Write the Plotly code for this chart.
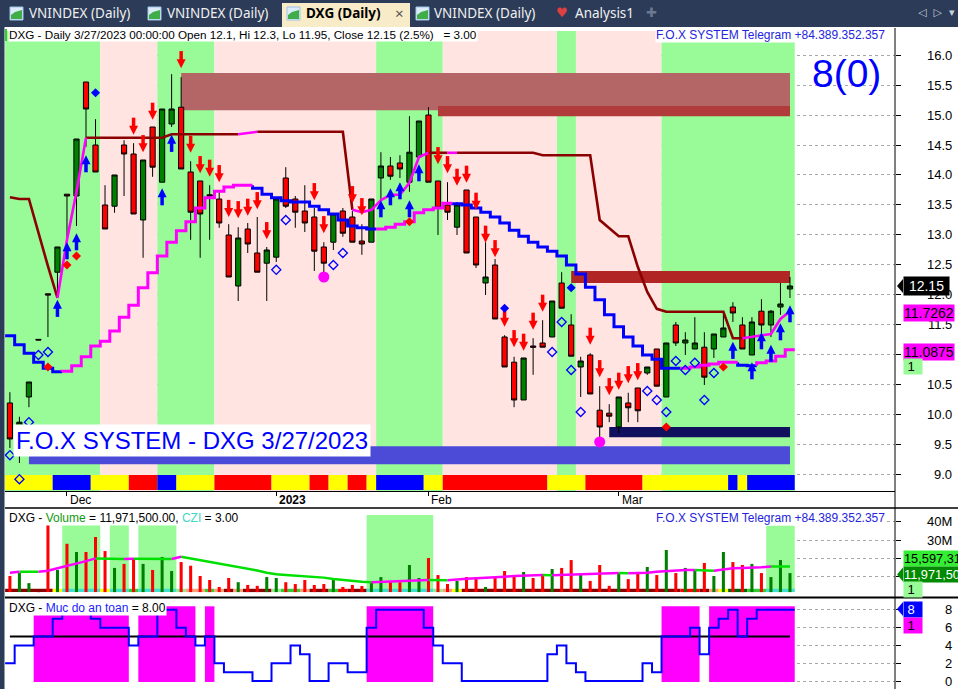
import plotly.graph_objects as go

W, H = 958, 689


def px(x):
    return x / W


def py(y):
    return 1 - y / H


# daily bars: index 0 = 23/11/2022 ... index 82 = 27/03/2023
opens = [10.2, 9.8, 10.3, 11.26, 12.02, 12.38, 13.68, 13.65, 15.55, 14.5,
         13.5, 13.48, 14.5, 14.35, 13.25, 14.8, 13.88, 14.85, 15.13, 14.05,
         13.9, 13.67, 13.6, 13.0, 12.15, 13.1, 12.7, 12.53, 12.63, 13.95,
         13.6, 13.4, 13.3, 12.8, 12.88, 13.4, 13.3, 12.9, 12.88, 13.95,
         14.15, 14.2, 13.88, 14.3, 15.0, 13.9, 13.5, 13.13, 13.75, 13.3,
         12.2, 12.5, 11.3, 10.88, 10.25, 11.15, 11.2, 11.3, 12.2, 11.5,
         10.8, 11.0, 10.08, 10.03, 9.8, 10.2, 10.45, 10.7, 11.1, 10.3,
         11.5, 11.2, 11.1, 11.13, 11.1, 11.3, 11.8, 11.5, 11.0, 11.73,
         11.5, 11.8, 12.1]
highs = [10.38, 9.97, 10.55, 11.26, 12.02, 12.8, 13.68, 14.6, 15.55, 14.93,
         13.83, 14.0, 14.58, 14.53, 14.25, 14.8, 15.1, 15.68, 15.63, 14.23,
         13.9, 13.83, 13.72, 13.18, 13.13, 13.2, 13.3, 12.8, 13.6, 14.13,
         13.65, 13.83, 13.45, 12.88, 13.35, 13.45, 13.4, 13.18, 13.6, 14.38,
         14.3, 14.33, 14.98, 14.9, 15.13, 13.9, 13.88, 13.55, 13.75, 13.3,
         12.88, 12.6, 11.33, 10.97, 10.95, 11.28, 11.58, 11.9, 12.38, 11.68,
         10.97, 11.03, 10.48, 10.18, 10.3, 10.37, 10.45, 10.8, 11.1, 11.2,
         11.55, 11.38, 11.63, 11.38, 11.35, 11.68, 11.88, 11.63, 11.63, 11.93,
         11.75, 12.2, 12.3]
lows = [9.45, 9.2, 10.13, 11.25, 11.3, 12.0, 12.95, 13.15, 14.47, 14.05,
        13.1, 13.37, 13.65, 13.35, 12.62, 13.97, 13.88, 14.8, 14.1, 12.92,
        12.62, 12.92, 13.12, 12.3, 11.9, 12.7, 12.38, 11.9, 12.55, 13.45,
        13.12, 13.05, 12.4, 12.33, 12.75, 12.97, 12.88, 12.67, 12.88, 13.6,
        13.92, 13.95, 13.72, 14.28, 13.88, 13.0, 13.25, 13.0, 12.7, 12.45,
        12.0, 11.6, 10.8, 10.13, 10.25, 10.67, 11.13, 11.3, 11.78, 10.98,
        10.3, 10.35, 9.63, 9.88, 9.7, 9.88, 9.88, 10.67, 10.48, 10.3,
        11.15, 11.0, 11.1, 10.5, 10.95, 11.3, 11.55, 11.1, 11.0, 11.17,
        11.3, 11.67, 11.95]
closes = [9.6, 9.88, 10.55, 11.25, 12.0, 12.8, 13.65, 14.6, 15.1, 14.05,
          13.1, 14.0, 14.35, 13.35, 14.25, 14.13, 15.1, 15.1, 14.1, 13.38,
          13.35, 13.65, 13.2, 12.3, 12.95, 12.85, 12.38, 12.75, 13.6, 13.48,
          13.38, 13.2, 12.73, 12.53, 13.35, 13.03, 12.88, 12.85, 13.6, 14.15,
          13.98, 14.1, 14.38, 14.9, 13.88, 13.45, 13.38, 13.5, 12.7, 12.5,
          12.3, 11.6, 10.8, 10.25, 10.95, 11.13, 11.13, 11.9, 11.78, 10.98,
          10.9, 10.35, 9.8, 9.98, 10.3, 10.12, 10.07, 10.8, 10.48, 11.2,
          11.2, 11.25, 11.2, 10.63, 11.35, 11.45, 11.7, 11.1, 11.55, 11.5,
          11.73, 11.85, 12.15]
# volume in millions of shares
volumes = [10.4, 12.0, 6.5, 1.5, 38.0, 13.7, 28.0, 23.5, 23.5, 31.7,
           24.0, 14.8, 17.0, 20.2, 17.0, 13.7, 20.8, 13.1, 18.0, 16.0,
           10.4, 8.2, 4.4, 9.3, 7.0, 5.5, 5.0, 9.8, 9.3, 7.0,
           6.0, 8.2, 5.5, 6.0, 8.7, 4.4, 5.5, 4.9, 7.0, 9.8,
           7.0, 7.0, 16.4, 9.3, 20.2, 10.9, 6.0, 7.7, 9.8, 9.8,
           4.4, 10.4, 13.1, 10.4, 12.6, 9.3, 11.5, 14.2, 14.8, 19.1,
           11.5, 7.7, 16.4, 5.0, 12.0, 8.7, 11.5, 15.3, 10.9, 24.6,
           12.0, 14.8, 13.7, 17.5, 10.4, 23.5, 18.0, 16.4, 17.0, 12.0,
           9.8, 19.1, 11.97]
vol_ma = [12.2, 12.75, 12.75, 12.7, 13.3, 14.6, 15.8, 17.0, 18.5, 20.0,
          19.95, 19.9, 19.7, 19.8, 19.75, 19.7, 19.7, 19.65, 20.9, 20.0,
          19.1, 18.2, 17.3, 16.4, 15.5, 14.6, 13.4, 12.2, 11.3, 10.9,
          10.6, 10.2, 9.8, 9.5, 8.8, 8.2, 7.7, 7.3, 7.0, 7.2,
          7.4, 7.6, 7.9, 8.0, 8.2, 8.15, 8.1, 8.6, 8.9, 9.1,
          9.3, 9.6, 10.0, 10.4, 10.6, 10.7, 10.9, 10.85, 11.0, 11.2,
          11.4, 11.5, 11.7, 11.9, 12.0, 11.95, 12.05, 12.2, 12.75, 13.1,
          13.5, 13.6, 13.7, 13.3, 13.2, 14.0, 14.6, 14.75, 14.8, 15.2,
          15.62, 15.6, 15.6]
# trailing stop line (dark red = resistance, magenta = support)
stop_line = [13.63, 13.6, 13.6, 13.03, 12.48, 11.95, 12.92, 13.72, 14.62, 14.62,
             14.62, 14.62, 14.62, 14.62, 14.62, 14.62, 14.62, 14.68, 14.68, 14.68,
             14.68, 14.68, 14.68, 14.68, 14.68, 14.7, 14.72, 14.72, 14.72, 14.72,
             14.72, 14.72, 14.72, 14.72, 14.72, 14.72, 13.42, 13.38, 13.42, 13.58,
             13.67, 13.67, 13.87, 14.3, 14.37, 14.37, 14.37, 14.37, 14.37, 14.37,
             14.37, 14.37, 14.37, 14.37, 14.37, 14.37, 14.33, 14.33, 14.33, 14.33,
             14.33, 14.33, 13.25, 13.12, 12.98, 12.98, 12.47, 12.05, 11.77, 11.72,
             11.72, 11.72, 11.72, 11.72, 11.72, 11.72, 11.28, 11.28, 11.3, 11.33,
             11.35, 11.6, 11.73]
stop_runs = [('r', 6), ('m', 3), ('r', 16), ('m', 2), ('r', 10), ('m', 8),
             ('r', 2), ('m', 1), ('r', 30), ('m', 5)]
# stepped base line (blue falling / magenta rising)
base_line = [11.32, 11.17, 11.03, 10.88, 10.78, 10.72, 10.73, 10.82, 10.97, 11.15,
             11.23, 11.4, 11.63, 11.83, 12.12, 12.37, 12.65, 12.88, 13.07, 13.22,
             13.45, 13.62, 13.73, 13.8, 13.83, 13.83, 13.78, 13.68, 13.62, 13.57,
             13.55, 13.55, 13.48, 13.42, 13.35, 13.25, 13.15, 13.12, 13.1, 13.1,
             13.13, 13.18, 13.22, 13.37, 13.42, 13.45, 13.53, 13.52, 13.5, 13.45,
             13.38, 13.3, 13.2, 13.08, 12.98, 12.88, 12.8, 12.73, 12.65, 12.5,
             12.35, 12.13, 11.92, 11.67, 11.47, 11.3, 11.15, 11.0, 10.93, 10.78,
             10.78, 10.78, 10.8, 10.83, 10.85, 10.88, 10.88, 10.83, 10.82, 10.87,
             10.9, 10.98, 11.0875]
base_runs = [('b', 6), ('m', 20), ('b', 13), ('m', 8), ('b', 24), ('m', 6), ('b', 2), ('m', 4)]
# "Muc do an toan" safety level
safety = [2, 4, 4, 5, 5, 7, 8, 8, 8, 7,
          6, 6, 6, 4, 5, 5, 8, 8, 6, 5,
          4, 5, 2, 1, 1, 1, 0, 0, 2, 2,
          4, 3, 0, 0, 2, 2, 1, 1, 6, 8,
          8, 8, 8, 8, 6, 4, 2, 2, 0, 0,
          0, 0, 0, 0, 0, 0, 0, 3, 4, 2,
          1, 0, 0, 0, 0, 0, 0, 2, 1, 5,
          5, 5, 6, 3, 6, 7, 8, 5, 7, 8,
          8, 8, 8]

band_runs = [('G', 10), ('P', 6), ('G', 6), ('P', 17), ('G', 7), ('P', 12), ('G', 2), ('P', 9), ('G', 14)]
strip_runs = [('Y', 5), ('B', 4), ('Y', 4), ('R', 3), ('B', 2), ('Y', 4), ('R', 6), ('Y', 4), ('R', 2),
              ('Y', 2), ('R', 2), ('Y', 1), ('B', 5), ('Y', 2), ('R', 11), ('Y', 4), ('R', 6), ('Y', 9),
              ('B', 1), ('Y', 1), ('B', 5)]
czi_runs = [('D', 5), ('Y', 1), ('T', 4), ('Y', 1), ('T', 2), ('L', 1), ('T', 4), ('G', 1), ('S', 2),
            ('L', 1), ('S', 1), ('D', 1), ('S', 1), ('D', 3), ('G', 1), ('L', 2), ('S', 1), ('D', 2),
            ('L', 1), ('R', 1), ('D', 2), ('T', 7), ('G', 1), ('S', 1), ('Y', 1), ('D', 23), ('R', 2),
            ('D', 1), ('S', 1), ('Y', 1), ('K', 2), ('L', 2), ('T', 3)]
vol_zones = [(6, 9, 38.0), (11, 12, 38.0), (14, 17, 38.0), (38, 44, 43.7), (80, 82, 38.0)]

down_bars = [13, 14, 15, 18, 19, 20, 21, 22, 23, 24, 25, 26, 27, 32, 33, 36, 37, 45, 46, 47,
             48, 49, 50, 51, 52, 53, 54, 55, 56, 61, 62, 63, 64, 65, 66]
down_tips = [14.67, 14.38, 14.92, 15.78, 14.37, 14.03, 13.97, 13.88, 13.3, 13.28, 13.32, 13.43,
             12.93, 13.58, 13.03, 13.53, 13.33, 14.18, 14.03, 13.82, 13.87, 13.42, 12.87, 12.63,
             11.47, 11.13, 11.07, 11.42, 11.72, 11.17, 10.63, 10.33, 10.42, 10.53, 10.58]
up_bars = [5, 6, 7, 8, 16, 17, 39, 40, 41, 42, 43, 76, 78, 79, 80, 81, 82]
up_tips = [11.92, 12.88, 13.03, 14.33, 13.78, 14.67, 13.58, 13.78, 13.88, 13.58, 14.18,
           11.22, 10.88, 11.38, 11.17, 11.53, 11.83]
diamond_bars = [0, 1, 2, 3, 4, 28, 29, 34, 35, 57, 58, 59, 60, 67, 68, 69, 70, 71, 72, 73, 74]
diamond_vals = [9.33, 8.93, 9.88, 11.0, 11.05, 12.42, 13.25, 12.5, 12.7, 11.05, 11.55, 10.75,
                10.05, 10.4, 10.25, 10.05, 10.9, 10.75, 10.87, 10.25, 10.7]
blue_dot_bars = [9, 52, 59]
blue_dot_vals = [15.37, 11.78, 12.12]
red_dot_bars = [4, 6, 7, 42, 69, 75]
red_dot_vals = [10.8, 12.5, 12.65, 13.22, 9.8, 10.8]
pink_dot_bars = [33, 62]
pink_dot_vals = [12.3, 9.55]

# zones: (from bar, to bar, low, high, colour)
zones = [(18, 82, 15.08, 15.7, '#b46565'),
         (45, 82, 14.98, 15.15, '#b13a3a'),
         (59, 82, 12.2, 12.4, '#b22525'),
         (63, 82, 9.63, 9.8, '#10105e'),
         (2, 82, 9.18, 9.48, '#4b4bd8')]

month_idx = [6, 28, 44, 64]
month_lbl = ['Dec', '<b>2023</b>', 'Feb', 'Mar']
price_ticks = [9.0, 9.5, 10.0, 10.5, 11.0, 11.5, 12.0, 12.5, 13.0, 13.5, 14.0, 14.5, 15.0, 15.5, 16.0]
vol_ticks = [10, 20, 30, 40]
safety_ticks = [0, 2, 4, 6, 8]


def expand(runs):
    return ''.join(c * k for c, k in runs)


def runs_of(flags):
    # contiguous runs of equal codes -> (code, first, last)
    out = []
    for i, c in enumerate(flags):
        if out and out[-1][0] == c and out[-1][2] == i - 1:
            out[-1][2] = i
        else:
            out.append([c, i, i])
    return out


n = len(closes)
idx = list(range(n))
strip = expand(strip_runs)
czi = expand(czi_runs)
stop_col = expand(stop_runs)
base_col = expand(base_runs)

X_RANGE = [-0.515, 93.04]
Y1 = [8.733, 16.4]
Y2 = [-1.09, 47.0]
Y3 = [-0.89, 9.22]
ppu = (491 - 31) / (Y1[1] - Y1[0])

RED, GREEN, BLUE, MAG, DRED = '#ff0000', '#008000', '#0000ff', '#ff00ff', '#8b0000'


def seg_xy(vals, cols, want):
    xs, ys = [], []
    for i in range(1, len(vals)):
        if cols[i] != want:
            continue
        if xs and xs[-1] == i - 1:
            xs.append(i)
            ys.append(vals[i])
        else:
            if xs:
                xs.append(None)
                ys.append(None)
            xs += [i - 1, i]
            ys += [vals[i - 1], vals[i]]
    return xs, ys


def step_xy(vals, cols, want):
    xs, ys = [], []
    prev = False
    for i, v in enumerate(vals):
        if cols[i] != want:
            if prev:
                xs.append(None)
                ys.append(None)
            prev = False
            continue
        if not prev and i > 0:
            xs.append(i - 0.5)
            ys.append(vals[i - 1])
        xs += [i - 0.5, i + 0.5]
        ys += [v, v]
        prev = True
    return xs, ys


def block(x0, x1, lo, hi, color, xa, ya):
    # a filled rectangle drawn as one bar spanning bars x0..x1
    return go.Bar(x=[(x0 + x1) / 2], y=[hi - lo], base=[lo], width=[x1 - x0],
                  marker=dict(color=color, line=dict(width=0)), xaxis=xa, yaxis=ya)


fig = go.Figure()

# ---------------- main pane ----------------
for c, a, b in runs_of(expand(band_runs)):
    fig.add_trace(block(a - 0.5, b + 0.5, Y1[0], Y1[1], '#98fb98' if c == 'G' else '#ffe4e1', 'x', 'y'))
for a, b, lo, hi, col in zones:
    fig.add_trace(block(a, b, lo, hi, col, 'x', 'y'))
strip_map = {'Y': '#ffff00', 'B': '#0000ff', 'R': '#ff0000'}
for c, a, b in runs_of(strip):
    fig.add_trace(block(a - 0.5, b + 0.5, 8.75, 9.0, strip_map[c], 'x', 'y'))

fig.add_trace(go.Candlestick(
    x=idx, open=opens, high=highs, low=lows, close=closes,
    increasing=dict(fillcolor=GREEN, line=dict(color='black', width=1)),
    decreasing=dict(fillcolor=RED, line=dict(color='black', width=1)),
    whiskerwidth=0, xaxis='x', yaxis='y'))

for want, col in [('r', DRED), ('m', MAG)]:
    xs, ys = seg_xy(stop_line, stop_col, want)
    fig.add_trace(go.Scatter(x=xs, y=ys, mode='lines', line=dict(color=col, width=2.6),
                             xaxis='x', yaxis='y'))
for want, col in [('b', BLUE), ('m', MAG)]:
    xs, ys = step_xy(base_line, base_col, want)
    fig.add_trace(go.Scatter(x=xs, y=ys, mode='lines', line=dict(color=col, width=3),
                             xaxis='x', yaxis='y'))

# arrows: head + stem
fig.add_trace(go.Scatter(x=down_bars, y=[t + 11.5 / ppu for t in down_tips], mode='markers',
                         marker=dict(symbol='line-ns', size=8, line=dict(color=RED, width=3.5)),
                         xaxis='x', yaxis='y'))
fig.add_trace(go.Scatter(x=down_bars, y=down_tips, mode='markers',
                         marker=dict(symbol='arrow-down', size=9, color=RED, line=dict(width=0)),
                         xaxis='x', yaxis='y'))
fig.add_trace(go.Scatter(x=up_bars, y=[t - 11.5 / ppu for t in up_tips], mode='markers',
                         marker=dict(symbol='line-ns', size=8, line=dict(color=BLUE, width=3.5)),
                         xaxis='x', yaxis='y'))
fig.add_trace(go.Scatter(x=up_bars, y=up_tips, mode='markers',
                         marker=dict(symbol='arrow-up', size=9, color=BLUE, line=dict(width=0)),
                         xaxis='x', yaxis='y'))

fig.add_trace(go.Scatter(x=diamond_bars, y=diamond_vals, mode='markers',
                         marker=dict(symbol='diamond-open', size=7, color=BLUE, line=dict(color=BLUE, width=1.3)),
                         xaxis='x', yaxis='y'))
fig.add_trace(go.Scatter(x=blue_dot_bars, y=blue_dot_vals, mode='markers',
                         marker=dict(symbol='diamond', size=7, color=BLUE),
                         xaxis='x', yaxis='y'))
fig.add_trace(go.Scatter(x=red_dot_bars, y=red_dot_vals, mode='markers',
                         marker=dict(symbol='diamond', size=7, color=RED),
                         xaxis='x', yaxis='y'))
fig.add_trace(go.Scatter(x=pink_dot_bars, y=pink_dot_vals, mode='markers',
                         marker=dict(symbol='circle', size=11, color=MAG),
                         xaxis='x', yaxis='y'))

# ---------------- volume pane ----------------
fig.add_trace(block(-0.6, n - 0.5, Y2[0], Y2[1], 'white', 'x2', 'y2'))
for a, b, top in vol_zones:
    fig.add_trace(block(a - 0.5, b + 0.5, 1.6, top, '#98fb98', 'x2', 'y2'))
czi_map = {'D': '#8b0000', 'Y': '#ffff00', 'T': '#40e0d0', 'L': '#32cd32', 'G': '#90ee90',
           'S': '#ffa07a', 'R': '#ff0000', 'K': '#006400'}
for c, a, b in runs_of(czi):
    fig.add_trace(block(a - 0.5, b + 0.5, 1.6, 3.4, czi_map[c], 'x2', 'y2'))
fig.add_trace(go.Bar(x=idx, y=[v - 1.6 for v in volumes], base=1.6, width=0.32,
                     marker=dict(color=[GREEN if c > o else RED for o, c in zip(opens, closes)],
                                 line=dict(width=0)),
                     xaxis='x2', yaxis='y2'))
ma_col = ['g'] + ['m' if vol_ma[i] > vol_ma[i - 1] else 'g' for i in range(1, n)]
for want, col in [('g', '#00e000'), ('m', MAG)]:
    xs, ys = seg_xy(vol_ma, ma_col, want)
    fig.add_trace(go.Scatter(x=xs, y=ys, mode='lines', line=dict(color=col, width=2.5),
                             xaxis='x2', yaxis='y2'))

# ---------------- safety pane ----------------
fig.add_trace(block(-0.6, n - 0.5, Y3[0], Y3[1], 'white', 'x3', 'y3'))
for c, a, b in runs_of(['s' if v >= 5 else 'w' for v in safety]):
    if c == 's':
        fig.add_trace(block(a - 0.5, b + 0.5, -0.1, 8.4, MAG, 'x3', 'y3'))
fig.add_trace(go.Scatter(x=[0, n - 1], y=[5, 5], mode='lines', line=dict(color='black', width=2),
                         xaxis='x3', yaxis='y3'))
xs, ys = step_xy(safety, 'a' * n, 'a')
fig.add_trace(go.Scatter(x=xs, y=ys, mode='lines', line=dict(color=BLUE, width=2),
                         xaxis='x3', yaxis='y3'))

# ---------------- frame shapes ----------------
NAVY = '#2b3b58'
shapes = [
    dict(type='rect', xref='paper', yref='paper', x0=0, x1=1, y0=py(27), y1=1,
         fillcolor=NAVY, line=dict(width=0)),
    dict(type='rect', xref='paper', yref='paper', x0=0, x1=px(4.5), y0=0, y1=py(27),
         fillcolor=NAVY, line=dict(width=0)),
    dict(type='rect', xref='paper', yref='paper', x0=px(282), x1=px(410), y0=py(27), y1=py(3),
         fillcolor='#f7ebc8', line=dict(width=0)),
    dict(type='line', xref='paper', yref='paper', x0=px(895), x1=px(895), y0=0, y1=py(28),
         line=dict(color='black', width=1)),
    dict(type='line', xref='paper', yref='paper', x0=px(5), x1=1, y0=py(508), y1=py(508),
         line=dict(color='black', width=1.5)),
    dict(type='line', xref='paper', yref='paper', x0=px(5), x1=1, y0=py(597.5), y1=py(597.5),
         line=dict(color='black', width=2)),
    dict(type='rect', xref='paper', yref='paper', x0=px(5), x1=px(7), y0=py(41), y1=py(29),
         fillcolor='#33cc33', line=dict(width=0)),
]
for x0 in [10, 148, 287, 416]:
    shapes.append(dict(type='rect', xref='paper', yref='paper', x0=px(x0), x1=px(x0 + 13),
                       y0=py(20), y1=py(7), fillcolor='#dcebf8', line=dict(color='#9fc3e6', width=1)))
    shapes.append(dict(type='path', xref='paper', yref='paper',
                       path='M %f,%f L %f,%f L %f,%f L %f,%f L %f,%f Z' % (
                           px(x0 + 1), py(19), px(x0 + 1), py(15), px(x0 + 5), py(12),
                           px(x0 + 12), py(10), px(x0 + 12), py(19)),
                       fillcolor='#3fae49', line=dict(width=0)))


def pointer(xr, yc, col):
    return dict(type='path', xref='paper', yref='paper',
                path='M %f,%f L %f,%f L %f,%f Z' % (px(xr - 6), py(yc), px(xr), py(yc - 7), px(xr), py(yc + 7)),
                fillcolor=col, line=dict(width=0))


shapes += [pointer(903, 286, 'black'), pointer(903, 574.5, '#008a00'), pointer(903, 609, BLUE)]

# ---------------- annotations ----------------
ann = []
F = 'Liberation Sans, Arial, sans-serif'


def text(x, y, s, size=12, color='black', anchor='left', bg=None, xref='paper', yref='paper', **kw):
    d = dict(x=x, y=y, xref=xref, yref=yref, text=s, showarrow=False, xanchor=anchor, yanchor='middle',
             font=dict(family=F, size=size, color=color), borderpad=0)
    if bg:
        d['bgcolor'] = bg
    d.update(kw)
    ann.append(d)


for v in price_ticks:
    text(px(953), v, '%.1f' % v, size=13, anchor='right', yref='y')
for v in [30, 40]:
    text(px(953), v, '%dM' % v, size=13, anchor='right', yref='y2')
for v in safety_ticks:
    text(px(953), v, '%d' % v, size=13, anchor='right', yref='y3')
for i, lbl in zip(month_idx, month_lbl):
    text(i, py(499.5), lbl, size=12, xref='x', xshift=2)

text(px(8), py(34.5), 'DXG - Daily 3/27/2023 00:00:00 Open 12.1, Hi 12.3, Lo 11.95, Close 12.15 (2.5%)   = 3.00',
     size=11.7, bg='white')
text(px(655), py(34.5), 'F.O.X SYSTEM Telegram +84.389.352.357', size=12, color='#2424dd', bg='white')
text(px(846), py(73), '8(0)', size=39, color=BLUE, anchor='center')
text(px(13), py(440.5), 'F.O.X SYSTEM - DXG 3/27/2023', size=24, color=BLUE, bg='white', borderpad=2)
text(px(8), py(517.5), 'DXG - <span style="color:#119911">Volume</span> = 11,971,500.00, '
     '<span style="color:#40d8c8">CZI</span> = 3.00', size=12)
text(px(655), py(517.5), 'F.O.X SYSTEM Telegram +84.389.352.357', size=12, color='#2424dd', bg='white')
text(px(8), py(607.5), 'DXG - <span style="color:#2020ff">Muc do an toan</span> = 8.00', size=12, bg='white')

# value labels on the right scale
text(px(903), py(286), ' 12.15 ', size=14, color='white', bg='black', borderpad=1)
text(px(903), py(313), '11.7262', size=14, bg=MAG)
text(px(903), py(352), '11.0875', size=14, bg=MAG)
text(px(903), py(366.5), ' 1  ', size=13, bg='#98fb98')
text(px(903), py(558.5), '15,597,31', size=12.8, bg='#33ee33')
text(px(903), py(574.5), '11,971,50', size=12.8, color='white', bg='#008a00')
text(px(903), py(589), ' 1  ', size=13, bg='#98fb98')
text(px(903), py(609), ' 8  ', size=13, color='white', bg=BLUE)
text(px(903), py(625), ' 1  ', size=13, bg=MAG)

# tab bar
TF = 'Noto Sans, Open Sans, sans-serif'
for x0, s in [(27, 'VNINDEX (Daily)'), (165, 'VNINDEX (Daily)'), (432, 'VNINDEX (Daily)'), (573, 'Analysis1')]:
    ann.append(dict(x=px(x0), y=py(13.5), xref='paper', yref='paper', text=s, showarrow=False,
                    xanchor='left', yanchor='middle', font=dict(family=TF, size=13.5, color='#f0f0f0')))
ann.append(dict(x=px(304), y=py(13.5), xref='paper', yref='paper', text='<b>DXG (Daily)</b>', showarrow=False,
                xanchor='left', yanchor='middle', font=dict(family=TF, size=13.5, color='black')))
ann.append(dict(x=px(399), y=py(13), xref='paper', yref='paper', text='×', showarrow=False,
                xanchor='center', yanchor='middle', font=dict(family=TF, size=15, color='#555555')))
ann.append(dict(x=px(562), y=py(13), xref='paper', yref='paper', text='♥', showarrow=False,
                xanchor='center', yanchor='middle', font=dict(family='DejaVu Sans', size=13, color='#e04040')))
ann.append(dict(x=px(651), y=py(13), xref='paper', yref='paper', text='✚', showarrow=False,
                xanchor='center', yanchor='middle', font=dict(family='DejaVu Sans', size=13, color='#6a7890')))
ann.append(dict(x=px(936), y=py(12), xref='paper', yref='paper', text='◁  ▷  ▾', showarrow=False,
                xanchor='center', yanchor='middle', font=dict(family='DejaVu Sans', size=11, color='#c8d0dc')))

# ---------------- layout ----------------
xcommon = dict(domain=[px(5), px(895)], range=X_RANGE, showgrid=False, zeroline=False,
               showticklabels=False, fixedrange=True)
ycommon = dict(side='right', showgrid=True, gridcolor='#a8a8a8', griddash='dot', gridwidth=1,
               zeroline=False, showticklabels=False, ticks='outside', ticklen=5, tickcolor='black',
               showline=False, fixedrange=True)

fig.update_layout(
    width=W, height=H, margin=dict(l=0, r=0, t=0, b=0, pad=0), autosize=False,
    paper_bgcolor='white', plot_bgcolor='white',
    showlegend=False, hovermode=False, barmode='overlay', boxgap=0.22,
    xaxis=dict(xcommon, anchor='y', rangeslider=dict(visible=False), showline=True, linecolor='black',
               linewidth=1, ticks='outside', ticklen=4, tickcolor='black', tickvals=month_idx),
    yaxis=dict(ycommon, domain=[py(491), py(31)], range=Y1, anchor='x', tickvals=price_ticks),
    xaxis2=dict(xcommon, anchor='y2'),
    yaxis2=dict(ycommon, domain=[py(597), py(509)], range=Y2, anchor='x2', tickvals=vol_ticks),
    xaxis3=dict(xcommon, anchor='y3'),
    yaxis3=dict(ycommon, domain=[py(689), py(599)], range=Y3, anchor='x3', tickvals=safety_ticks),
    shapes=shapes, annotations=ann,
)

fig.write_html('out.html', config={'displayModeBar': False, 'staticPlot': True},
               post_script="document.body.style.margin='0';document.body.style.overflow='hidden';")
